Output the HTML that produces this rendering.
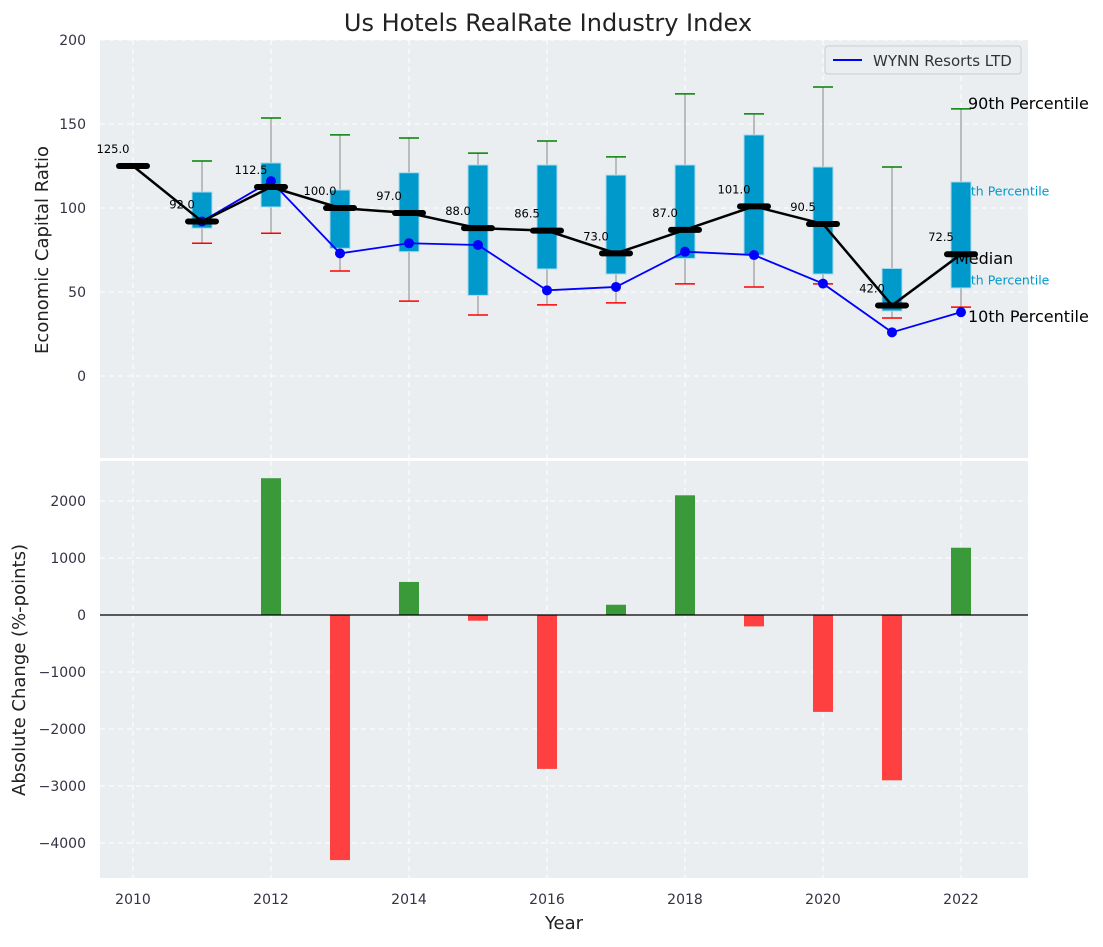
<!DOCTYPE html>
<html><head><meta charset="utf-8"><style>
body{margin:0;background:#fff;font-family:"Liberation Sans","DejaVu Sans",sans-serif}
svg text{font-family:"DejaVu Sans","Liberation Sans",sans-serif}
</style></head><body>
<svg id="chart" width="1103" height="942" xmlns="http://www.w3.org/2000/svg">
<text x="548" y="31" text-anchor="middle" font-size="24" fill="#222">Us Hotels RealRate Industry Index</text>
<rect x="100" y="40" width="928" height="418" fill="#eaeef0"/>
<rect x="100" y="461" width="928" height="417" fill="#eaeef0"/>
<g id="gtop"></g><g id="gbot"></g>
<text x="48" y="250" transform="rotate(-90 48 250)" text-anchor="middle" font-size="18" fill="#222">Economic Capital Ratio</text>
<text x="25" y="670" transform="rotate(-90 25 670)" text-anchor="middle" font-size="18" fill="#222">Absolute Change (%-points)</text>
<text x="564" y="929" text-anchor="middle" font-size="18" fill="#222">Year</text>
<g>
<rect x="825" y="46" width="196" height="28" rx="3" fill="#eaeef0" stroke="#ccc"/>
<line x1="833" y1="60" x2="862" y2="60" stroke="blue" stroke-width="2"/>
<text x="873" y="66" font-size="15" fill="#333">WYNN Resorts LTD</text>
</g>
</svg>
<script>
const years=[2010,2011,2012,2013,2014,2015,2016,2017,2018,2019,2020,2021,2022];
const medians=[125,92,112.5,100,97,88,86.5,73,87,101,90.5,42,72.5];
const q1=[null,88,100.6,76,74,48,63.7,60.7,70,72,60.7,38.7,52.4];
const q3=[null,109.5,126.8,110.7,121,125.6,125.6,119.6,125.6,143.5,124.4,64,115.5];
const p10=[null,79,85,62.5,44.6,36.3,42.3,43.5,54.8,53,54.8,34.5,41];
const p90=[null,128,153.6,143.5,141.7,132.7,139.9,130.4,167.9,156,172,124.4,159];
const wynn=[null,92,116,73,79,78,51,53,74,72,55,26,38];
const changes=[null,null,2400,-4300,580,-100,-2700,180,2100,-200,-1700,-2900,1180];
const topTicks=[0,50,100,150,200];
const botTicks=[-4000,-3000,-2000,-1000,0,1000,2000];
const xTicks=[2010,2012,2014,2016,2018,2020,2022];
const NS="http://www.w3.org/2000/svg";
const X=v=>133+(v-2010)*69;
const YT=v=>376-v*1.68;
const YB=v=>615-v*0.057;
function mk(p,t,a){const e=document.createElementNS(NS,t);for(const k in a)e.setAttribute(k,a[k]);p.appendChild(e);return e;}
const gTop=document.getElementById('gtop'),gBot=document.getElementById('gbot');
xTicks.forEach(t=>{
 let g=mk(gTop,'line',{x1:X(t),x2:X(t),y1:40,y2:458,stroke:'#fff','stroke-dasharray':'5,4','stroke-width':1});
 
 
 let g2=mk(gBot,'line',{x1:X(t),x2:X(t),y1:461,y2:878,stroke:'#fff','stroke-dasharray':'5,4','stroke-width':1});
 
 
 let l=mk(gBot,'text',{x:X(t),y:904,'text-anchor':'middle','font-size':14,fill:'#334'});l.textContent=t;
 
 
});
topTicks.forEach(t=>{
 let g=mk(gTop,'line',{x1:100,x2:1028,y1:YT(t),y2:YT(t),stroke:'#fff','stroke-dasharray':'5,4'});
 
 
 let l=mk(gTop,'text',{x:86,y:YT(t)+5,'text-anchor':'end','font-size':14,fill:'#334'});l.textContent=t;
 
 
});
botTicks.forEach(t=>{
 let g=mk(gBot,'line',{x1:100,x2:1028,y1:YB(t),y2:YB(t),stroke:'#fff','stroke-dasharray':'5,4'});
 
 
 let l=mk(gBot,'text',{x:86,y:YB(t)+5,'text-anchor':'end','font-size':14,fill:'#334'});l.textContent=(t<0?'\u2212'+(-t):t);
 
 
});
years.forEach((y,i)=>{
 if(q1[i]==null)return;
 const x=X(y);
 let w=mk(gTop,'line',{x1:x,x2:x,y1:YT(p90[i]),y2:YT(p10[i]),stroke:'#888','stroke-width':1});
 
 
 let b=mk(gTop,'rect',{x:x-10,y:YT(q3[i]),width:20,height:YT(q1[i])-YT(q3[i]),fill:'#0099cc',stroke:'#a8dcef','stroke-width':1});
 
 
 let c1=mk(gTop,'line',{x1:x-10,x2:x+10,y1:YT(p90[i]),y2:YT(p90[i]),stroke:'green','stroke-width':1.5});
 
 
 let c2=mk(gTop,'line',{x1:x-10,x2:x+10,y1:YT(p10[i]),y2:YT(p10[i]),stroke:'red','stroke-width':1.5});
 
 
});
const lx=X(2022)+7;
[['75th Percentile',q3[12]-5,'#0099cc',12.5,955],['25th Percentile',q1[12]+5,'#0099cc',12.5,955],['90th Percentile',p90[12]+3,'#000',16,lx],['10th Percentile',p10[12]-6,'#000',16,lx],['Median',medians[12]-3,'#000',16,955]].forEach(a=>{
 let t=mk(gTop,'text',{x:a[4],y:YT(a[1])+5,'font-size':a[3],fill:a[2]});t.textContent=a[0];
 
 
});
let pts=[];years.forEach((y,i)=>{if(wynn[i]!=null)pts.push(X(y)+','+YT(wynn[i]));});
let wl=mk(gTop,'polyline',{points:pts.join(' '),fill:'none',stroke:'blue','stroke-width':1.8});


years.forEach((y,i)=>{if(wynn[i]==null)return;
 let d=mk(gTop,'circle',{cx:X(y),cy:YT(wynn[i]),r:5,fill:'blue'});
 
 
});
let ml=mk(gTop,'polyline',{points:years.map((y,i)=>X(y)+','+YT(medians[i])).join(' '),fill:'none',stroke:'#000','stroke-width':2.5});


years.forEach((y,i)=>{
 let m=mk(gTop,'line',{x1:X(y)-14,x2:X(y)+14,y1:YT(medians[i]),y2:YT(medians[i]),stroke:'#000','stroke-width':6,'stroke-linecap':'round'});
 
 
 let t=mk(gTop,'text',{x:X(y)-20,y:YT(medians[i])-13,'text-anchor':'middle','font-size':11.5,fill:'#000'});t.textContent=medians[i].toFixed(1);
 
 
});
years.forEach((y,i)=>{
 const v=changes[i];if(v==null)return;
 let r=mk(gBot,'rect',{x:X(y)-10,y:Math.min(YB(v),YB(0)),width:20,height:Math.abs(YB(v)-YB(0)),fill:v>=0?'#3a9a3a':'#ff4040'});
 
 
});
let z=mk(gBot,'line',{x1:100,x2:1028,y1:YB(0),y2:YB(0),stroke:'#000','stroke-width':1.2});


</script>
</body></html>
